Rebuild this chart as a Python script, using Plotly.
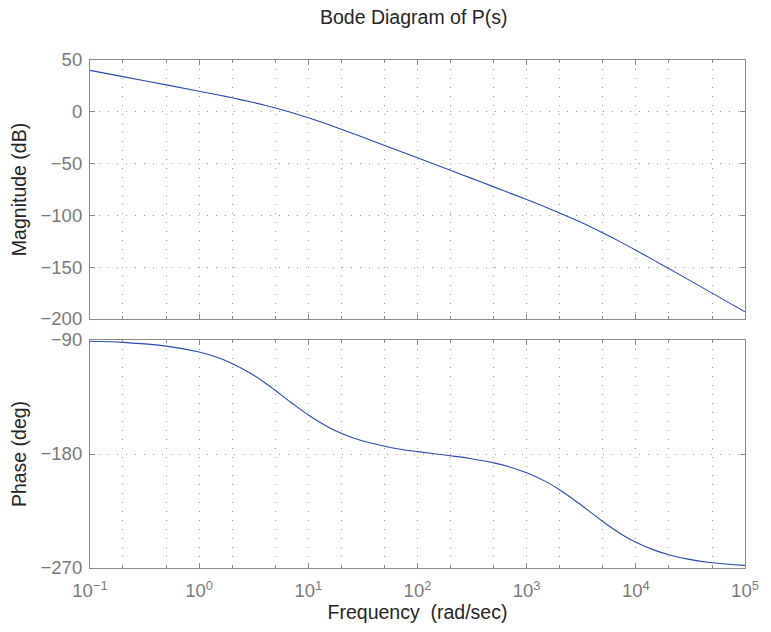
import plotly.graph_objects as go

freq = [0.1, 0.2, 0.5, 1, 1.5, 2, 3, 4, 5, 7, 10, 15, 20, 30, 50, 70, 100, 200, 300,
        500, 700, 1000, 1500, 2000, 3000, 4000, 5000, 7000, 1e4, 1.5e4, 2e4, 3e4, 5e4, 1e5]
# Magnitude (dB)
mag_db = [40.0, 33.97, 25.99, 19.88, 16.22, 13.52, 9.49, 6.36, 3.73, -0.63, -5.77, -12.12,
          -16.85, -23.69, -32.46, -38.27, -44.45, -56.49, -63.55, -72.48, -78.39, -84.75,
          -92.14, -97.59, -105.72, -111.88, -116.91, -124.85, -133.63, -143.9, -151.28,
          -161.76, -175.04, -193.08]
# Phase (deg)
phase_deg = [-90.95, -91.9, -94.8, -99.5, -104.0, -108.5, -116.6, -123.7, -129.9, -139.5,
             -149.2, -158.4, -163.6, -169.2, -173.9, -176.2, -178.1, -181.4, -183.5, -187.0,
             -190.2, -194.8, -201.8, -208.2, -218.9, -227.1, -233.4, -242.1, -249.7, -256.1,
             -259.5, -263.0, -265.8, -267.9]

mag_ticks = [50, 0, -50, -100, -150, -200]
phase_ticks = [-90, -180, -270]
x_tickvals = [0.1, 1, 10, 100, 1000, 10000, 100000]
x_ticktext = ["10<sup>−1</sup>", "10<sup>0</sup>", "10<sup>1</sup>", "10<sup>2</sup>",
              "10<sup>3</sup>", "10<sup>4</sup>", "10<sup>5</sup>"]

LINE = "#2a4bb0"
AX = "#8a8a8a"
GRID = "#9a9a9a"
FAM = "Liberation Sans, Arial, sans-serif"
TICKF = dict(family=FAM, size=18.5, color="#7a7a7a")
TITLEF = dict(family=FAM, size=19.5, color="#262626")

fig = go.Figure()
fig.add_trace(go.Scatter(x=freq, y=mag_db, mode="lines", line=dict(color=LINE, width=1.1, shape="spline"),
                         xaxis="x", yaxis="y", showlegend=False))
fig.add_trace(go.Scatter(x=freq, y=phase_deg, mode="lines", line=dict(color=LINE, width=1.1, shape="spline"),
                         xaxis="x2", yaxis="y2", showlegend=False))

common_x = dict(type="log", range=[-1, 5], showline=True, mirror="ticks", linecolor=AX, linewidth=1.2,
                ticks="inside", ticklen=5, tickcolor=AX, tickvals=x_tickvals,
                showgrid=True, gridcolor=GRID, griddash="1px,8px", gridwidth=1,
                minor=dict(ticks="inside", ticklen=3, tickcolor=AX, showgrid=True,
                           gridcolor=GRID, griddash="1px,8px", gridwidth=1),
                zeroline=False, tickfont=TICKF)

common_y = dict(showline=True, mirror="ticks", linecolor=AX, linewidth=1.2, ticks="inside", ticklen=5,
                tickcolor=AX, showgrid=True, gridcolor=GRID, griddash="1px,8px", zeroline=False,
                tickfont=TICKF, ticklabelstandoff=3)

fig.update_layout(
    width=771, height=632,
    margin=dict(l=90, r=14, t=60, b=64),
    paper_bgcolor="white", plot_bgcolor="white",
    xaxis=dict(**common_x, domain=[0, 1], anchor="y", showticklabels=False),
    yaxis=dict(**common_y, domain=[0.4902, 1], range=[-200, 50], tickvals=mag_ticks,
               title=dict(text="Magnitude (dB)", font=TITLEF, standoff=8), anchor="x"),
    xaxis2=dict(**common_x, domain=[0, 1], anchor="y2", ticktext=x_ticktext, ticklabelstandoff=6,
                title=dict(text="Frequency \u00a0(rad/sec)", font=TITLEF, standoff=2)),
    yaxis2=dict(**common_y, domain=[0, 0.4488], range=[-270, -90], tickvals=phase_ticks,
                title=dict(text="Phase (deg)", font=TITLEF, standoff=8), anchor="x2"),
    annotations=[dict(text="Bode Diagram of P(s)", x=0.494, y=1, xref="paper", yref="paper",
                      xanchor="center", yanchor="middle", yshift=43, showarrow=False, font=TITLEF)],
)

fig.write_html("out.html")
